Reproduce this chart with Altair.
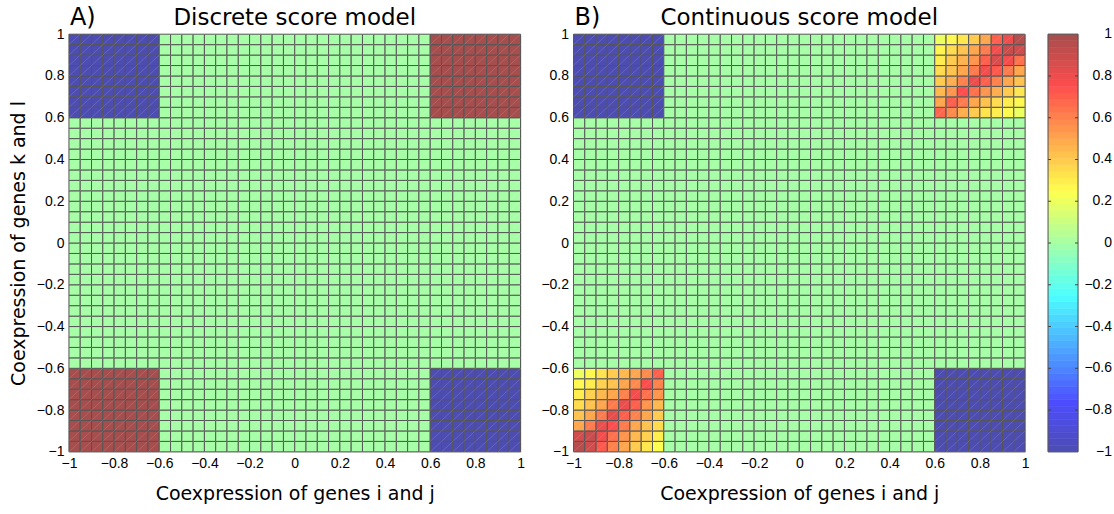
import altair as alt
import numpy as np
import pandas as pd

# ---------------- data ----------------
axis_ticks = [-1, -0.8, -0.6, -0.4, -0.2, 0, 0.2, 0.4, 0.6, 0.8, 1]
colorbar_ticks = [-1, -0.8, -0.6, -0.4, -0.2, 0, 0.2, 0.4, 0.6, 0.8, 1]
n_cells = 40          # cells per axis between -1 and 1
block = 8             # corner block size in cells (|value| > 0.6)
n_colorbar_bands = 64

background_value = 0
negative_corner_value = -1     # top-left and bottom-right blocks (both models)
discrete_positive_value = 1    # top-right and bottom-left blocks (discrete model)

# continuous model, top-right block: rows from y=1 (top) to y=0.6, columns from x=0.6 to x=1
cont_top_right = [
    [0.20, 0.27, 0.32, 0.40, 0.50, 0.70, 0.80, 0.95],
    [0.28, 0.35, 0.42, 0.50, 0.62, 0.78, 0.90, 0.88],
    [0.30, 0.40, 0.47, 0.55, 0.70, 0.85, 0.78, 0.65],
    [0.35, 0.42, 0.50, 0.62, 0.78, 0.72, 0.62, 0.50],
    [0.40, 0.48, 0.60, 0.80, 0.70, 0.60, 0.50, 0.42],
    [0.45, 0.55, 0.75, 0.65, 0.55, 0.48, 0.40, 0.32],
    [0.50, 0.70, 0.62, 0.50, 0.42, 0.35, 0.30, 0.27],
    [0.68, 0.58, 0.48, 0.40, 0.33, 0.30, 0.27, 0.20],
]
# continuous model, bottom-left block: rows from y=-0.6 (top) to y=-1, columns from x=-1 to x=-0.6
cont_bottom_left = [
    [0.20, 0.27, 0.33, 0.40, 0.45, 0.50, 0.58, 0.70],
    [0.27, 0.30, 0.38, 0.42, 0.50, 0.58, 0.75, 0.60],
    [0.30, 0.38, 0.45, 0.50, 0.60, 0.78, 0.65, 0.55],
    [0.35, 0.42, 0.50, 0.62, 0.80, 0.70, 0.55, 0.45],
    [0.42, 0.50, 0.62, 0.82, 0.70, 0.60, 0.50, 0.40],
    [0.50, 0.62, 0.80, 0.75, 0.62, 0.50, 0.42, 0.35],
    [0.88, 0.90, 0.78, 0.65, 0.55, 0.45, 0.38, 0.30],
    [0.95, 0.88, 0.72, 0.60, 0.50, 0.40, 0.32, 0.25],
]

# jet colormap seen through 70% opacity on white
jet_domain = [-1, -0.765, -0.25, 0, 0.25, 0.75, 1]
jet_colors = ["#4d4db1", "#4d4dff", "#4dffff", "#a6ffa6", "#ffff4d", "#ff4d4d", "#a64d4d"]

# ---------------- tables ----------------
edges = np.linspace(-1, 1, n_cells + 1)


def cell_value(i, j, continuous):
    left, right = i < block, i >= n_cells - block
    bottom, top = j < block, j >= n_cells - block
    if (left and top) or (right and bottom):
        return negative_corner_value
    if right and top:
        if continuous:
            return cont_top_right[n_cells - 1 - j][i - (n_cells - block)]
        return discrete_positive_value
    if left and bottom:
        if continuous:
            return cont_bottom_left[block - 1 - j][i]
        return discrete_positive_value
    return background_value


def grid_table(continuous):
    rows = []
    for i in range(n_cells):
        for j in range(n_cells):
            rows.append({"x0": edges[i], "x1": edges[i + 1],
                         "y0": edges[j], "y1": edges[j + 1],
                         "v": cell_value(i, j, continuous)})
    return pd.DataFrame(rows)


df_discrete = grid_table(False)
df_continuous = grid_table(True)

# faint diagonal of every cell (rendering artefact in the original)
step = 2 / n_cells
diag_rows = []
for k in range(-(n_cells - 1), n_cells):
    c = k * step
    xa = max(-1, -1 + c)
    xb = min(1, 1 + c)
    diag_rows.append({"x0": xa, "y0": xa - c, "x1": xb, "y1": xb - c})
df_diag = pd.DataFrame(diag_rows)

cb_edges = np.linspace(-1, 1, n_colorbar_bands + 1)
df_cbar = pd.DataFrame({"y0": cb_edges[:-1], "y1": cb_edges[1:],
                        "v": (cb_edges[:-1] + cb_edges[1:]) / 2})
df_cbticks = pd.DataFrame({"y0": colorbar_ticks})
df_cbinner = pd.DataFrame({"y0": [t for t in colorbar_ticks if abs(t) < 1]})

# ---------------- chart ----------------
W, H = 452, 418
grid_color = "#555555"
tick_font = "Liberation Sans"
title_font = "DejaVu Sans"

color_scale = alt.Scale(domain=jet_domain, range=jet_colors, interpolate="rgb")
pos_scale = alt.Scale(domain=[-1, 1], nice=False, zero=False)


def x_axis():
    return alt.Axis(values=axis_ticks, format=".1~f", labelFont=tick_font, labelFontSize=14,
                    labelColor="black", labelPadding=5, labelFlush=False, labelOverlap=False,
                    domain=False, ticks=False, grid=False,
                    title="Coexpression of genes i and j", titleFont=title_font,
                    titleFontSize=19, titleFontWeight="normal", titleColor="black",
                    titlePadding=14)


def y_axis(with_title):
    kw = dict(values=axis_ticks, format=".1~f", labelFont=tick_font, labelFontSize=14,
              labelColor="black", labelPadding=5, labelFlush=False, labelOverlap=False,
              domain=False, ticks=False, grid=False)
    if with_title:
        kw.update(title="Coexpression of genes k and l", titleFont=title_font,
                  titleFontSize=19, titleFontWeight="normal", titleColor="black",
                  titlePadding=8)
    else:
        kw.update(title=None)
    return alt.Axis(**kw)


def panel(df, title, letter, with_ytitle, with_colorbar):
    xa, ya = x_axis(), y_axis(with_ytitle)
    rects = alt.Chart(df).mark_rect(stroke=grid_color, strokeWidth=1).encode(
        x=alt.X("x0:Q", scale=pos_scale, axis=xa),
        x2="x1:Q",
        y=alt.Y("y0:Q", scale=pos_scale, axis=ya),
        y2="y1:Q",
        color=alt.Color("v:Q", scale=color_scale, legend=None),
    )
    diag = alt.Chart(df_diag).mark_rule(color="white", opacity=0.17, strokeWidth=0.8).encode(
        x=alt.X("x0:Q", scale=pos_scale, axis=xa),
        x2="x1:Q",
        y=alt.Y("y0:Q", scale=pos_scale, axis=ya),
        y2="y1:Q",
    )
    ttl = alt.Chart(pd.DataFrame({"t": [title]})).mark_text(
        font=title_font, fontSize=23, align="center", baseline="alphabetic", color="black"
    ).encode(text="t:N", x=alt.value(W / 2), y=alt.value(-9))
    let = alt.Chart(pd.DataFrame({"t": [letter]})).mark_text(
        font=title_font, fontSize=24, align="left", baseline="alphabetic", color="black"
    ).encode(text="t:N", x=alt.value(1), y=alt.value(-9))
    layers = [rects, diag, ttl, let]
    if with_colorbar:
        cb_x0, cb_x1 = W + 23, W + 53
        bands = alt.Chart(df_cbar).mark_rect(strokeWidth=0.6).encode(
            x=alt.value(cb_x0), x2=alt.value(cb_x1),
            y=alt.Y("y0:Q", scale=pos_scale, axis=ya), y2="y1:Q",
            color=alt.Color("v:Q", scale=color_scale, legend=None),
            stroke=alt.Stroke("v:Q", scale=color_scale, legend=None),
        )
        frame = alt.Chart(pd.DataFrame({"a": [0]})).mark_rect(
            fillOpacity=0, stroke="#555555", strokeWidth=1
        ).encode(x=alt.value(cb_x0), x2=alt.value(cb_x1), y=alt.value(0), y2=alt.value(H))
        tick_l = alt.Chart(df_cbinner).mark_rule(color="#444444", strokeWidth=1).encode(
            x=alt.value(cb_x0), x2=alt.value(cb_x0 + 3),
            y=alt.Y("y0:Q", scale=pos_scale, axis=ya))
        tick_r = alt.Chart(df_cbinner).mark_rule(color="#444444", strokeWidth=1).encode(
            x=alt.value(cb_x1 - 3), x2=alt.value(cb_x1),
            y=alt.Y("y0:Q", scale=pos_scale, axis=ya))
        labels = alt.Chart(df_cbticks).mark_text(
            font=tick_font, fontSize=14, align="right", baseline="middle", color="black"
        ).encode(x=alt.value(cb_x1 + 34),
                 y=alt.Y("y0:Q", scale=pos_scale, axis=ya),
                 text=alt.Text("y0:Q", format=".1~f"))
        layers += [bands, frame, tick_l, tick_r, labels]
    return alt.layer(*layers).properties(width=W, height=H)


chart_a = panel(df_discrete, "Discrete score model", "A)", True, False)
chart_b = panel(df_continuous, "Continuous score model", "B)", False, True)

chart = alt.hconcat(chart_a, chart_b, spacing=14).properties(
    padding={"left": 8, "top": 5, "right": 1, "bottom": 2}
).configure_view(strokeWidth=0).configure(background="white")

chart.save("out.html", embed_options={"renderer": "svg", "actions": False})
